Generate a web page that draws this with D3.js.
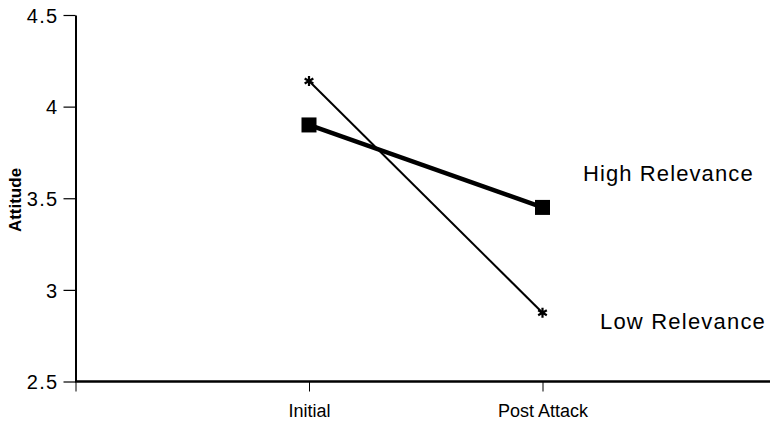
<!DOCTYPE html>
<html><head><meta charset="utf-8">
<script src="https://cdn.jsdelivr.net/npm/d3@7"></script>
<style>body{margin:0;background:#fff}svg{display:block}text{font-family:"Liberation Sans",Arial,sans-serif;fill:#000}</style>
</head><body><svg id="c" width="770" height="423"></svg>
<script>
const categories = ["Initial", "Post Attack"];
const highRelevance = [3.90, 3.45];
const lowRelevance = [4.14, 2.875];
const yTicks = [2.5, 3, 3.5, 4, 4.5];
const seriesLabels = ["High Relevance", "Low Relevance"];

const svg = d3.select("#c");
const x = d3.scaleLinear().domain([0, 3]).range([75.5, 776]);
const y = d3.scaleLinear().domain([2.5, 4.5]).range([381.5, 15]);

// y axis
const ya = svg.append("g").attr("transform", "translate(75.5,0)")
  .call(d3.axisLeft(y).tickValues(yTicks).tickFormat(d => d).tickSize(12).tickSizeOuter(0));
ya.select(".domain").attr("stroke-width", 2);
ya.selectAll(".tick line").attr("stroke-width", 1.2);
ya.selectAll(".tick text").attr("x", -17).attr("dy", "0.36em")
  .style("font-size", "20px").style("letter-spacing", "1.3px").style("font-family", "Liberation Sans, Arial, sans-serif");

// x axis
const xa = svg.append("g").attr("transform", "translate(0,381.5)")
  .call(d3.axisBottom(x).tickValues([0, 1, 2]).tickFormat(i => i === 0 ? "" : categories[i - 1]).tickSize(10).tickSizeOuter(0));
xa.select(".domain").attr("stroke-width", 2.4).attr("d", "M75,0H770");
xa.selectAll(".tick line").attr("stroke-width", 1);
xa.selectAll(".tick text").attr("y", 35).attr("dy", 0)
  .style("font-size", "18px").style("font-family", "Liberation Sans Narrow, Liberation Sans, Arial, sans-serif");

// y label
svg.append("text").attr("transform", "translate(21,200) rotate(-90)")
  .attr("text-anchor", "middle").style("font-size", "17px").attr("font-weight", "bold").text("Attitude");

const line = d3.line().x((d, i) => x(i + 1)).y(d => y(d));

// low relevance
svg.append("path").datum(lowRelevance).attr("d", line).attr("fill", "none").attr("stroke", "#000").attr("stroke-width", 2);
svg.selectAll(".star").data(lowRelevance).join("path")
  .attr("transform", (d, i) => `translate(${x(i + 1)},${y(d)})`)
  .attr("d", d3.symbol(d3.symbolAsterisk, 70)).attr("stroke", "#000").attr("stroke-width", 2.2).attr("fill", "none");

// high relevance
svg.append("path").datum(highRelevance).attr("d", line).attr("fill", "none").attr("stroke", "#000").attr("stroke-width", 4.5);
svg.selectAll(".sq").data(highRelevance).join("rect")
  .attr("x", (d, i) => x(i + 1) - 7.5).attr("y", d => y(d) - 7.5).attr("width", 15).attr("height", 15).attr("fill", "#000");

// labels
svg.append("text").attr("x", 583).attr("y", 181).style("font-size", "22px").style("letter-spacing", "1.1px").text(seriesLabels[0]);
svg.append("text").attr("x", 600).attr("y", 329).style("font-size", "22px").style("letter-spacing", "1.2px").text(seriesLabels[1]);
</script></body></html>
